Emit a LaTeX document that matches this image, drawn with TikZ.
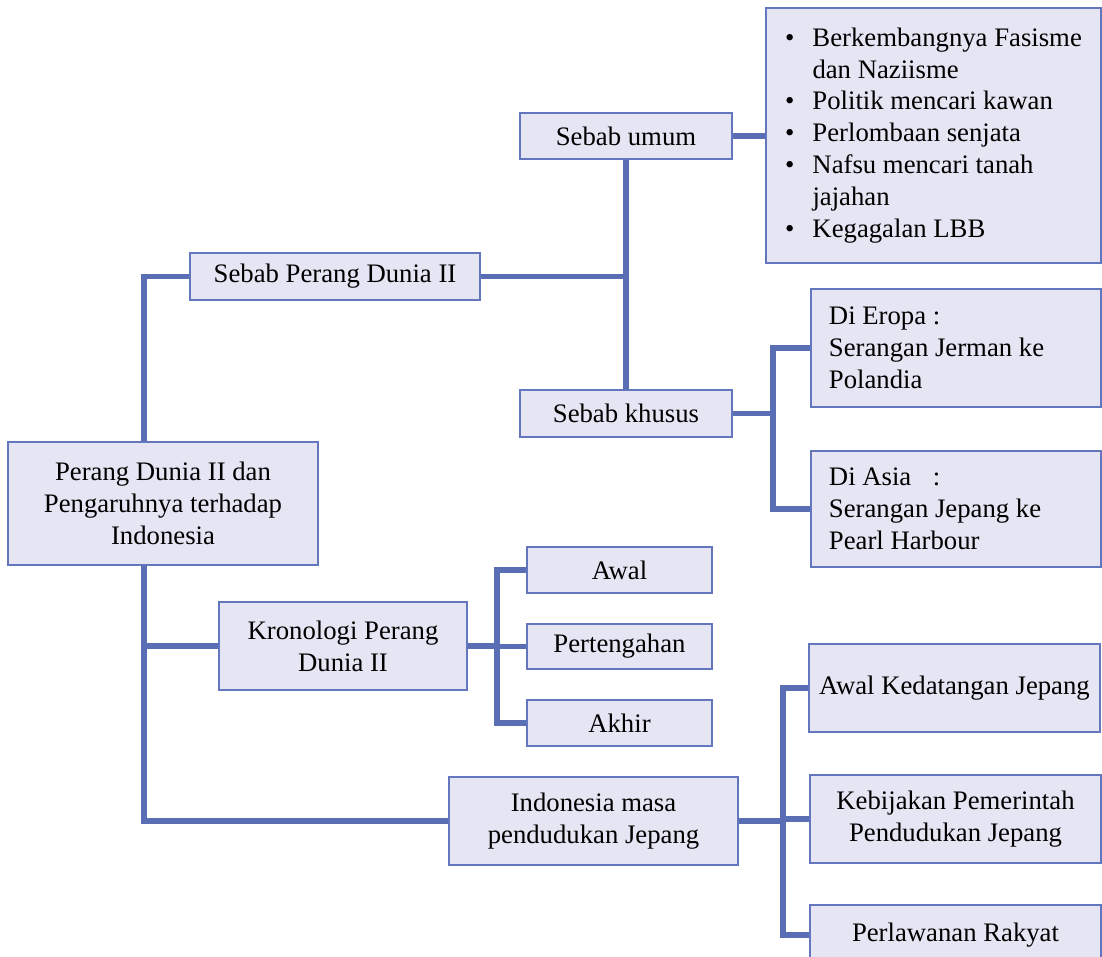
\documentclass[tikz,border=0pt]{standalone}
\usepackage{fontspec}
\usepackage{calc}
\setmainfont{Liberation Serif}
\definecolor{boxfill}{RGB}{229, 229, 243}
\definecolor{boxline}{RGB}{100, 118, 190}
\definecolor{linkblue}{RGB}{89, 110, 181}

\begin{document}
\begin{tikzpicture}[x=0.025cm, y=-0.025cm,
    box/.style={draw=boxline, line width=1.7pt, fill=boxfill, inner sep=0pt, align=center,
        font=\fontsize{19}{22.7}\selectfont},
    sidebox/.style={box, align=flush left, text width=6.35cm, inner xsep=0.45cm, minimum height=#1},
    link/.style={draw=linkblue, line width=4.2pt}]
    \useasboundingbox (0,0) rectangle (1102,957);
    \clip (0,0) rectangle (1102,957);

    % Boxes
    \node[box, minimum width=7.75cm, minimum height=3.075cm] (main) at (163,503.5)
        {Perang Dunia II dan\\Pengaruhnya terhadap\\Indonesia};
    \node[box, minimum width=7.25cm, minimum height=1.175cm] (sebabpd) at (335,276.5) {Sebab Perang Dunia II};
    \node[box, minimum width=5.3cm, minimum height=1.15cm] (umum) at (626,136) {Sebab umum};
    \node[box, minimum width=5.3cm, minimum height=1.175cm] (khusus) at (626,413.5) {Sebab khusus};
    \node[box, minimum width=8.375cm, minimum height=6.375cm] (bullets) at (933.5,135.5) {%
        \begin{tabular}{@{}l@{\hspace{0.45cm}}l@{}}
            \textbullet & Berkembangnya Fasisme\\
                        & dan Naziisme\\
            \textbullet & Politik mencari kawan\\
            \textbullet & Perlombaan senjata\\
            \textbullet & Nafsu mencari tanah\\
                        & jajahan\\
            \textbullet & Kegagalan LBB
        \end{tabular}};
    \node[sidebox=2.95cm] (eropa) at (956,348) {Di Eropa :\\Serangan Jerman ke\\Polandia};
    \node[sidebox=2.9cm] (asia) at (956,509)
        {\makebox[\widthof{Di Eropa }][l]{Di Asia}:\\Serangan Jepang ke\\Pearl Harbour};

    \node[box, minimum width=6.2cm, minimum height=2.2cm] (kron) at (343,646) {Kronologi Perang\\Dunia II};
    \node[box, minimum width=4.625cm, minimum height=1.15cm] (awal) at (619.5,570) {Awal};
    \node[box, minimum width=4.625cm, minimum height=1.125cm] (tengah) at (619.5,646.5) {Pertengahan};
    \node[box, minimum width=4.625cm, minimum height=1.15cm] (akhir) at (619.5,723) {Akhir};

    \node[box, minimum width=7.225cm, minimum height=2.2cm] (indo) at (593.5,821) {Indonesia masa\\pendudukan Jepang};
    \node[box, minimum width=7.275cm, minimum height=2.2cm] (kedat) at (954.5,688) {Awal Kedatangan Jepang};
    \node[box, minimum width=7.275cm, minimum height=2.2cm] (kebij) at (955.5,819) {Kebijakan Pemerintah\\Pendudukan Jepang};
    \node[box, minimum width=7.275cm, minimum height=1.5cm] (perl) at (955.5,935) {Perlawanan Rakyat};

    % Lines
    \coordinate (trunk) at (144,0);
    \coordinate (khususx) at (773,0);
    \coordinate (kronx) at (497,0);
    \coordinate (indox) at (783,0);

    \draw[link] (trunk |- main.north) |- (sebabpd.west);
    \draw[link] (trunk |- main.south) |- (indo.west);
    \draw[link] (trunk |- kron.west) -- (kron.west);

    \draw[link] (sebabpd.east) -- (umum.south |- sebabpd.east);
    \draw[link] (umum.south) -- (khusus.north);
    \draw[link] (umum.east) -- (bullets.west |- umum.east);

    \draw[link] (khusus.east) -- (khususx |- khusus.east);
    \draw[link] (eropa.west) -| (khususx |- asia.west) -- (asia.west);

    \draw[link] (kron.east) -- (kronx |- kron.east);
    \draw[link] (awal.west) -| (kronx |- akhir.west) -- (akhir.west);
    \draw[link] (kronx |- tengah.west) -- (tengah.west);

    \draw[link] (indo.east) -- (indox |- indo.east);
    \draw[link] (kedat.west) -| (indox |- perl.west) -- (perl.west);
    \draw[link] (indox |- kebij.west) -- (kebij.west);
\end{tikzpicture}
\end{document}
